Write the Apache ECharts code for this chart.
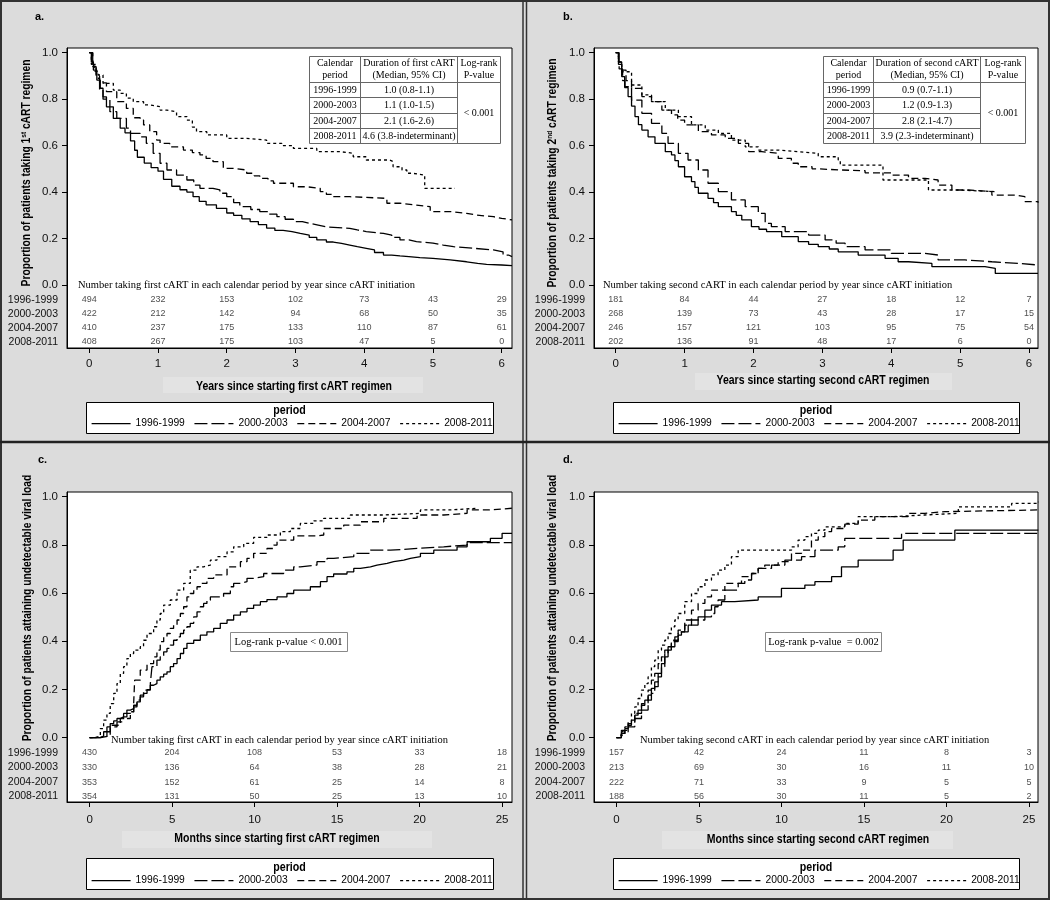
<!DOCTYPE html>
<html><head><meta charset="utf-8">
<script src="https://cdn.jsdelivr.net/npm/echarts@6/dist/echarts.min.js"></script>
<style>html,body{margin:0;padding:0;background:#dcdcdc}#c{width:1050px;height:900px}</style>
</head><body><div id="c"></div>
<script>
// ---------------- DATA ----------------
const periods = ['1996-1999', '2000-2003', '2004-2007', '2008-2011'];

// Panel a: years since starting first cART, proportion still on regimen
const a1996 = [[0,1],[0.03,0.96],[0.06,0.925],[0.11,0.882],[0.16,0.847],[0.2,0.81],[0.25,0.767],[0.35,0.717],[0.45,0.675],[0.52,0.655],[0.6,0.62],[0.66,0.58],[0.7,0.55],[0.8,0.525],[0.9,0.505],[1.0,0.49],[1.08,0.455],[1.2,0.425],[1.32,0.41],[1.42,0.4],[1.51,0.38],[1.6,0.36],[1.7,0.345],[1.85,0.33],[2.0,0.31],[2.1,0.3],[2.22,0.285],[2.34,0.273],[2.46,0.26],[2.58,0.245],[2.7,0.235],[2.82,0.23],[2.95,0.222],[3.07,0.215],[3.2,0.205],[3.31,0.194],[3.45,0.185],[3.55,0.179],[3.67,0.172],[3.79,0.165],[3.9,0.158],[4.03,0.151],[4.15,0.14],[4.28,0.129],[4.4,0.125],[4.52,0.122],[4.65,0.118],[4.81,0.115],[5.0,0.108],[5.25,0.1],[5.49,0.093],[5.65,0.089],[5.78,0.086],[6.0,0.083],[6.15,0.08]];
const a2000 = [[0,1],[0.05,0.94],[0.1,0.89],[0.15,0.84],[0.2,0.8],[0.3,0.746],[0.4,0.717],[0.54,0.675],[0.6,0.653],[0.74,0.638],[0.83,0.61],[0.93,0.567],[1.03,0.524],[1.13,0.495],[1.27,0.473],[1.42,0.452],[1.52,0.43],[1.61,0.416],[1.8,0.409],[1.9,0.395],[2.0,0.38],[2.1,0.355],[2.19,0.337],[2.35,0.325],[2.48,0.316],[2.6,0.305],[2.73,0.294],[2.85,0.283],[2.97,0.273],[3.1,0.265],[3.21,0.258],[3.33,0.25],[3.45,0.244],[3.79,0.237],[3.9,0.23],[4.03,0.222],[4.28,0.215],[4.4,0.205],[4.52,0.194],[4.65,0.187],[4.76,0.18],[5.0,0.172],[5.15,0.165],[5.3,0.158],[5.59,0.151],[5.88,0.143],[6.02,0.129],[6.1,0.122],[6.15,0.122]];
const a2004 = [[0,1],[0.05,0.95],[0.1,0.9],[0.15,0.87],[0.25,0.832],[0.4,0.789],[0.54,0.76],[0.64,0.72],[0.74,0.71],[0.79,0.689],[0.88,0.66],[0.98,0.624],[1.03,0.61],[1.17,0.595],[1.37,0.581],[1.5,0.57],[1.61,0.56],[1.7,0.545],[1.8,0.531],[1.95,0.502],[2.1,0.495],[2.29,0.481],[2.4,0.47],[2.48,0.459],[2.6,0.448],[2.68,0.438],[2.97,0.423],[3.16,0.416],[3.36,0.402],[3.45,0.39],[3.55,0.38],[3.79,0.373],[4.33,0.352],[4.52,0.344],[4.76,0.337],[4.96,0.316],[5.25,0.308],[5.49,0.301],[5.64,0.294],[5.88,0.287],[6.0,0.28],[6.15,0.28]];
const a2008 = [[0,1],[0.03,0.95],[0.08,0.92],[0.13,0.904],[0.2,0.868],[0.35,0.839],[0.45,0.825],[0.54,0.804],[0.64,0.789],[0.79,0.775],[0.88,0.768],[1.03,0.753],[1.13,0.746],[1.27,0.725],[1.42,0.71],[1.5,0.68],[1.56,0.66],[1.71,0.646],[2.0,0.631],[2.29,0.624],[2.58,0.61],[2.8,0.6],[2.97,0.588],[3.31,0.574],[3.65,0.567],[3.84,0.552],[4.03,0.538],[4.37,0.531],[4.42,0.509],[4.55,0.495],[4.62,0.481],[4.7,0.473],[4.88,0.416],[5.32,0.416]];

// Panel b: years since starting second cART
const b1996 = [[0,1],[0.04,0.95],[0.087,0.897],[0.13,0.85],[0.18,0.811],[0.23,0.77],[0.28,0.725],[0.33,0.69],[0.38,0.667],[0.47,0.638],[0.57,0.61],[0.72,0.574],[0.81,0.56],[0.86,0.535],[0.91,0.509],[1.0,0.466],[1.1,0.445],[1.15,0.42],[1.2,0.395],[1.34,0.373],[1.42,0.355],[1.49,0.337],[1.68,0.316],[1.75,0.3],[1.83,0.28],[1.97,0.251],[2.08,0.24],[2.19,0.23],[2.41,0.208],[2.65,0.187],[2.8,0.175],[2.94,0.165],[3.1,0.155],[3.23,0.143],[3.52,0.129],[3.91,0.115],[4.1,0.1],[4.25,0.093],[4.59,0.079],[5.36,0.072],[5.51,0.05],[6.13,0.05]];
const b2000 = [[0,1],[0.05,0.93],[0.1,0.88],[0.135,0.854],[0.23,0.796],[0.38,0.739],[0.52,0.696],[0.67,0.653],[0.76,0.61],[0.91,0.567],[1.05,0.538],[1.2,0.495],[1.34,0.438],[1.49,0.402],[1.68,0.366],[1.88,0.337],[2.07,0.308],[2.17,0.265],[2.26,0.251],[2.46,0.23],[2.8,0.215],[3.04,0.194],[3.2,0.18],[3.33,0.165],[3.62,0.151],[4.0,0.136],[4.49,0.129],[4.68,0.108],[5.07,0.1],[5.46,0.093],[5.84,0.086],[6.13,0.086]];
const b2004 = [[0,1],[0.04,0.96],[0.087,0.925],[0.15,0.88],[0.23,0.846],[0.38,0.811],[0.52,0.789],[0.67,0.753],[0.81,0.732],[0.9,0.71],[1.0,0.689],[1.2,0.66],[1.39,0.646],[1.59,0.631],[1.78,0.61],[1.93,0.574],[2.12,0.567],[2.36,0.545],[2.55,0.524],[2.65,0.509],[2.85,0.5],[2.94,0.495],[3.28,0.492],[3.62,0.483],[4.0,0.473],[4.25,0.459],[4.49,0.452],[4.68,0.43],[4.88,0.409],[5.12,0.402],[5.46,0.387],[5.8,0.38],[5.94,0.359],[6.13,0.354]];
const b2008 = [[0,1],[0.04,0.96],[0.09,0.918],[0.23,0.861],[0.38,0.818],[0.52,0.789],[0.72,0.753],[0.91,0.725],[1.1,0.689],[1.3,0.667],[1.49,0.653],[1.68,0.624],[1.88,0.595],[2.07,0.581],[2.36,0.574],[2.65,0.567],[2.94,0.552],[3.23,0.538],[3.26,0.516],[3.88,0.452],[4.54,0.409],[4.97,0.402],[5.51,0.402]];

// Panel c: months since starting first cART, proportion undetectable
const c1996 = [[0,0],[0.65,0.006],[0.85,0.024],[1.05,0.044],[1.25,0.058],[1.46,0.069],[1.66,0.079],[1.86,0.086],[2.06,0.1],[2.26,0.114],[2.47,0.12],[2.67,0.134],[2.87,0.148],[3.07,0.169],[3.27,0.183],[3.48,0.199],[3.68,0.217],[3.88,0.224],[4.08,0.238],[4.28,0.252],[4.49,0.263],[4.69,0.273],[4.89,0.294],[5.09,0.307],[5.3,0.328],[5.5,0.349],[5.7,0.37],[5.9,0.391],[6.31,0.404],[6.71,0.425],[7.11,0.439],[7.52,0.453],[7.92,0.474],[8.33,0.488],[8.73,0.508],[9.14,0.522],[9.54,0.536],[9.94,0.55],[10.35,0.564],[10.75,0.573],[11.36,0.584],[11.96,0.598],[12.37,0.612],[13.38,0.626],[13.99,0.647],[14.39,0.668],[14.79,0.679],[15.6,0.688],[16.01,0.702],[16.41,0.709],[17.02,0.716],[17.42,0.723],[18.03,0.73],[18.43,0.737],[19.04,0.744],[19.44,0.751],[20.05,0.765],[20.86,0.778],[22.27,0.792],[22.88,0.813],[24.29,0.827],[25.0,0.848],[25.6,0.848]];
const c2000 = [[0,0],[0.65,0.006],[1.05,0.024],[1.25,0.044],[1.66,0.065],[2.06,0.086],[2.26,0.1],[2.67,0.127],[2.87,0.155],[3.07,0.176],[3.27,0.197],[3.68,0.224],[3.78,0.294],[4.08,0.321],[4.28,0.335],[4.49,0.356],[4.69,0.37],[4.89,0.384],[5.09,0.404],[5.3,0.418],[5.5,0.432],[5.7,0.446],[5.9,0.46],[6.1,0.474],[6.31,0.501],[6.51,0.522],[6.71,0.543],[6.91,0.557],[7.11,0.571],[7.32,0.584],[8.12,0.598],[8.53,0.626],[8.73,0.64],[9.14,0.647],[9.54,0.661],[9.94,0.668],[10.55,0.681],[11.76,0.695],[12.37,0.709],[12.77,0.716],[13.78,0.73],[14.39,0.744],[14.79,0.751],[16.01,0.765],[17.02,0.778],[18.23,0.785],[19.85,0.792],[21.46,0.799],[22.88,0.809],[25.6,0.809]];
const c2004 = [[0,0],[0.65,0.006],[1.25,0.051],[1.86,0.079],[2.47,0.107],[2.67,0.141],[2.73,0.238],[3.07,0.28],[3.48,0.307],[3.88,0.335],[4.08,0.363],[4.28,0.398],[4.49,0.418],[4.69,0.432],[4.89,0.453],[5.09,0.467],[5.3,0.488],[5.5,0.515],[5.7,0.543],[5.9,0.584],[6.1,0.598],[6.31,0.612],[6.51,0.626],[6.71,0.64],[7.11,0.661],[7.52,0.675],[8.33,0.709],[9.14,0.73],[9.54,0.744],[9.94,0.765],[10.75,0.785],[11.16,0.799],[11.36,0.82],[12.37,0.837],[13.78,0.841],[14.19,0.868],[15.4,0.882],[16.41,0.896],[17.83,0.91],[19.85,0.924],[21.46,0.931],[22.88,0.945],[24.2,0.952],[25.6,0.952]];
const c2008 = [[0,0],[0.34,0.006],[0.65,0.037],[0.85,0.072],[1.05,0.1],[1.25,0.141],[1.46,0.183],[1.66,0.224],[1.86,0.266],[2.06,0.294],[2.26,0.328],[2.47,0.349],[2.67,0.363],[3.07,0.377],[3.27,0.404],[3.48,0.432],[3.88,0.46],[4.08,0.488],[4.28,0.515],[4.49,0.55],[4.89,0.571],[5.3,0.612],[5.7,0.64],[6.1,0.695],[6.51,0.709],[6.91,0.716],[7.32,0.737],[7.72,0.751],[8.33,0.771],[8.73,0.792],[9.34,0.806],[9.94,0.831],[10.75,0.841],[11.56,0.855],[12.17,0.868],[12.77,0.889],[13.58,0.9],[14.19,0.91],[15.8,0.924],[17.83,0.931],[20.05,0.945],[21.87,0.952],[23.48,0.952]];

// Panel d: months since starting second cART
const d1996 = [[0,0],[0.3,0.017],[0.51,0.037],[0.71,0.051],[0.91,0.072],[1.11,0.093],[1.31,0.114],[1.52,0.134],[1.72,0.155],[1.92,0.176],[2.12,0.204],[2.32,0.231],[2.53,0.266],[2.73,0.307],[2.93,0.335],[3.13,0.363],[3.33,0.377],[3.54,0.398],[3.74,0.425],[3.94,0.439],[4.35,0.467],[4.55,0.488],[4.95,0.501],[5.36,0.529],[5.76,0.55],[6.37,0.564],[7.17,0.571],[8.59,0.584],[10.0,0.619],[11.42,0.633],[12.03,0.647],[13.04,0.668],[13.64,0.709],[14.65,0.737],[16.77,0.778],[17.38,0.82],[20.51,0.861],[25.57,0.861]];
const d2000 = [[0,0],[0.3,0.024],[0.71,0.044],[1.11,0.079],[1.52,0.114],[1.92,0.155],[2.12,0.183],[2.32,0.211],[2.53,0.252],[2.73,0.294],[2.93,0.349],[3.13,0.377],[3.33,0.398],[3.54,0.418],[3.74,0.439],[4.14,0.467],[4.95,0.488],[5.36,0.501],[5.76,0.515],[5.96,0.543],[6.16,0.571],[6.57,0.612],[7.38,0.64],[7.78,0.654],[8.19,0.681],[8.59,0.702],[9.4,0.716],[10.21,0.737],[11.22,0.751],[12.03,0.778],[13.44,0.792],[13.84,0.827],[17.28,0.848],[25.57,0.848]];
const d2004 = [[0,0],[0.3,0.03],[0.71,0.058],[1.11,0.1],[1.52,0.141],[1.92,0.197],[2.12,0.238],[2.32,0.266],[2.53,0.307],[2.73,0.335],[2.93,0.363],[3.33,0.404],[3.74,0.446],[4.14,0.488],[4.55,0.529],[4.95,0.557],[5.36,0.584],[5.76,0.612],[6.57,0.64],[7.58,0.668],[8.19,0.681],[8.59,0.702],[8.99,0.716],[9.8,0.73],[10.61,0.765],[11.22,0.778],[11.82,0.82],[12.23,0.834],[12.63,0.855],[13.04,0.868],[13.84,0.886],[14.65,0.903],[15.66,0.917],[17.68,0.931],[18.69,0.938],[19.91,0.945],[25.57,0.945]];
const d2008 = [[0,0],[0.2,0.01],[0.51,0.044],[0.71,0.065],[0.91,0.1],[1.11,0.127],[1.31,0.162],[1.52,0.197],[1.72,0.224],[1.92,0.252],[2.12,0.294],[2.32,0.321],[2.53,0.363],[2.73,0.384],[2.93,0.404],[3.13,0.432],[3.33,0.46],[3.54,0.488],[3.74,0.515],[4.14,0.564],[4.55,0.598],[4.95,0.626],[5.36,0.654],[5.76,0.675],[6.16,0.695],[6.57,0.716],[6.97,0.751],[7.38,0.778],[10.61,0.792],[11.01,0.82],[11.42,0.834],[11.82,0.848],[12.23,0.861],[12.63,0.875],[13.84,0.889],[14.65,0.917],[16.67,0.924],[18.69,0.931],[20.72,0.958],[23.95,0.972],[25.57,0.979]];

// Numbers at risk
const riskTimesYears = [0, 1, 2, 3, 4, 5, 6];
const riskTimesMonths = [0, 5, 10, 15, 20, 25];
const riskA = [[494,232,153,102,73,43,29],[422,212,142,94,68,50,35],[410,237,175,133,110,87,61],[408,267,175,103,47,5,0]];
const riskB = [[181,84,44,27,18,12,7],[268,139,73,43,28,17,15],[246,157,121,103,95,75,54],[202,136,91,48,17,6,0]];
const riskC = [[430,204,108,53,33,18],[330,136,64,38,28,21],[353,152,61,25,14,8],[354,131,50,25,13,10]];
const riskD = [[157,42,24,11,8,3],[213,69,30,16,11,10],[222,71,33,9,5,5],[188,56,30,11,5,2]];

// Median duration tables
const medianA = ['1.0 (0.8-1.1)', '1.1 (1.0-1.5)', '2.1 (1.6-2.6)', '4.6 (3.8-indeterminant)'];
const medianB = ['0.9 (0.7-1.1)', '1.2 (0.9-1.3)', '2.8 (2.1-4.7)', '3.9 (2.3-indeterminant)'];
const yTicks = [0, 0.2, 0.4, 0.6, 0.8, 1.0];

// ---------------- LAYOUT / STYLE ----------------
const SANS = "'Liberation Sans',Arial,sans-serif";
const SERIF = "'Liberation Serif','Times New Roman',serif";
const dashes = ['solid', [13, 4], [7, 4], [3, 3]];
const rowY = [-0.064, -0.124, -0.185, -0.245];

const panels = [
  { grid: {left: 67, top: 48, width: 445, height: 300}, x: [-0.324, 6.15], y: [-0.2712, 1.0202],
    xt: riskTimesYears, curves: [a1996, a2000, a2004, a2008], risk: riskA, lblMargin: 10,
    xname: 'Years since starting first cART regimen', xnamePos: [294, 387], xnameBg: [163, 377, 260, 16],
    legendLeft: 91, legendTop: 418, box: [86, 402, 407, 31], periodY: 410 },
  { grid: {left: 594, top: 48, width: 444, height: 300}, x: [-0.315, 6.13], y: [-0.2712, 1.0202],
    xt: riskTimesYears, curves: [b1996, b2000, b2004, b2008], risk: riskB, lblMargin: 10,
    xname: 'Years since starting second cART regimen', xnamePos: [823, 381], xnameBg: [695, 373, 257, 17],
    legendLeft: 618, legendTop: 418, box: [613, 402, 406, 31], periodY: 410 },
  { grid: {left: 67, top: 492, width: 445, height: 310}, x: [-1.37, 25.6], y: [-0.2677, 1.0195],
    xt: riskTimesMonths, curves: [c1996, c2000, c2004, c2008], risk: riskC, lblMargin: 12,
    xname: 'Months since starting first cART regimen', xnamePos: [277, 839], xnameBg: [122, 831, 310, 17],
    legendLeft: 91, legendTop: 875, box: [86, 858, 407, 31], periodY: 867 },
  { grid: {left: 594, top: 492, width: 444, height: 310}, x: [-1.36, 25.55], y: [-0.2677, 1.0195],
    xt: riskTimesMonths, curves: [d1996, d2000, d2004, d2008], risk: riskD, lblMargin: 12,
    xname: 'Months since starting second cART regimen', xnamePos: [818, 840], xnameBg: [662, 831, 291, 18],
    legendLeft: 618, legendTop: 875, box: [613, 858, 406, 31], periodY: 867 }
];

const grids = [], xAxes = [], yAxes = [], series = [], legends = [];
panels.forEach((p, i) => {
  grids.push(Object.assign({show: true, backgroundColor: '#fff', borderColor: '#000', borderWidth: 1, containLabel: false}, p.grid));
  xAxes.push({type: 'value', gridIndex: i, min: p.x[0], max: p.x[1],
    splitLine: {show: false}, axisLine: {show: true, onZero: false, lineStyle: {color: '#000'}},
    axisTick: {show: true, customValues: p.xt, length: 5, lineStyle: {color: '#000'}},
    axisLabel: {customValues: p.xt, margin: p.lblMargin, fontFamily: SANS, fontSize: 11.5, color: '#111'}});
  yAxes.push({type: 'value', gridIndex: i, min: p.y[0], max: p.y[1],
    splitLine: {show: false}, axisLine: {show: true, onZero: false, lineStyle: {color: '#000'}},
    axisTick: {show: true, customValues: yTicks, length: 5, lineStyle: {color: '#000'}},
    axisLabel: {customValues: yTicks.concat(rowY), margin: 9, fontFamily: SANS, fontSize: 11.5, color: '#111',
      rich: {r: {fontFamily: SANS, fontSize: 10.5, color: '#111'}},
      formatter: v => {
        if (v > -0.01) return v.toFixed(1);
        const k = rowY.findIndex(r => Math.abs(r - v) < 0.01);
        return k >= 0 ? '{r|' + periods[k] + '}' : '';
      }}});
  p.curves.forEach((data, k) => {
    series.push({type: 'line', name: periods[k], xAxisIndex: i, yAxisIndex: i, data: data,
      step: 'end', symbol: 'none', silent: true, clip: true,
      lineStyle: {color: '#000', width: 1.3, type: dashes[k]}, itemStyle: {color: '#000'}});
  });
  p.risk.forEach((row, k) => {
    series.push({type: 'scatter', name: 'risk' + i + '_' + k, xAxisIndex: i, yAxisIndex: i,
      data: row.map((n, j) => [p.xt[j], rowY[k], n]), symbolSize: 1, silent: true,
      itemStyle: {color: 'transparent'},
      label: {show: true, position: 'inside', formatter: q => String(q.value[2]),
        fontFamily: SANS, fontSize: 9, color: '#222'}});
  });
  legends.push({data: periods, left: p.legendLeft, top: p.legendTop, orient: 'horizontal',
    itemWidth: 39, itemHeight: 14, itemGap: 9, padding: 0, z: 10, selectedMode: false,
    itemStyle: {color: 'rgba(0,0,0,0)', borderColor: 'rgba(0,0,0,0)', borderWidth: 0},
    lineStyle: {width: 1.2},
    textStyle: {fontFamily: SANS, fontSize: 10.3, color: '#000'}});
});

// ---------------- GRAPHIC (frames, tables, titles) ----------------
const g = [];
function txt(x, y, text, st, extra) {
  g.push(Object.assign({type: 'text', x: x, y: y, z: 60, silent: true,
    style: Object.assign({text: text, fill: '#000', fontSize: 10, fontFamily: SERIF, align: 'left', verticalAlign: 'middle'}, st)}, extra || {}));
}
function ln(x1, y1, x2, y2, stroke, w, z) {
  g.push({type: 'line', z: z || 60, silent: true, shape: {x1: x1, y1: y1, x2: x2, y2: y2}, style: {stroke: stroke, lineWidth: w}});
}
function rc(x, y, w, h, fill, stroke, lw, z) {
  g.push({type: 'rect', z: z || 55, silent: true, shape: {x: x, y: y, width: w, height: h}, style: {fill: fill, stroke: stroke, lineWidth: lw}});
}

// frame lines
rc(1, 1, 1048, 898, 'none', '#333', 2, 70);
ln(523, 0, 523, 900, '#333', 1.5, 70);
ln(526.5, 0, 526.5, 900, '#333', 1.5, 70);
ln(0, 442, 1050, 442, '#222', 2.5, 70);

// panel letters
[['a.', 35, 17], ['b.', 563, 17], ['c.', 38, 460], ['d.', 563, 460]].forEach(t =>
  txt(t[1], t[2], t[0], {fontFamily: SANS, fontWeight: 'bold', fontSize: 11}));

// y-axis titles (condensed bold)
const yTitleStyle = {fontFamily: SANS, fontWeight: 'bold', fontSize: 12.5, align: 'center', verticalAlign: 'middle',
  rich: {s: {fontFamily: SANS, fontWeight: 'bold', fontSize: 8, verticalAlign: 'top', lineHeight: 14}}};
const rot = {rotation: Math.PI / 2, scaleX: 0.82};
txt(27, 173, 'Proportion of patients taking 1{s|st} cART regimen', yTitleStyle, rot);
txt(553, 173, 'Proportion of patients taking 2{s|nd} cART regimen', yTitleStyle, rot);
txt(28, 608, 'Proportion of patients attaining undetectable viral load', yTitleStyle, rot);
txt(553, 608, 'Proportion of patients attaining undetectable viral load', yTitleStyle, rot);

// x-axis titles
panels.forEach(p => {
  const b = p.xnameBg;
  rc(b[0], b[1], b[2], b[3], '#e3e3e3', 'none', 0, 2);
  txt(p.xnamePos[0], p.xnamePos[1], p.xname, {fontFamily: SANS, fontWeight: 'bold', fontSize: 12.5, align: 'center'}, {scaleX: 0.84});
});

// risk table headers
txt(78, 285, 'Number taking first cART in each calendar period by year since cART initiation', {fontSize: 10.5});
txt(603, 285, 'Number taking second cART in each calendar period by year since cART initiation', {fontSize: 10.5});
txt(111, 740, 'Number taking first cART in each calendar period by year since cART initiation', {fontSize: 10.5});
txt(640, 740, 'Number taking second cART in each calendar period by year since cART initiation', {fontSize: 10.5});

// median tables
function medTable(cols, which, meds) {
  const rows = [56.5, 82.5, 97.5, 113.5, 128.5, 143.5];
  rc(cols[0], rows[0], cols[3] - cols[0], rows[5] - rows[0], '#fff', '#666', 1, 55);
  ln(cols[1], rows[0], cols[1], rows[5], '#666', 1);
  ln(cols[2], rows[0], cols[2], rows[5], '#666', 1);
  ln(cols[0], rows[1], cols[3], rows[1], '#666', 1);
  for (let r = 2; r <= 4; r++) ln(cols[0], rows[r], cols[2], rows[r], '#666', 1);
  const cx = [(cols[0] + cols[1]) / 2, (cols[1] + cols[2]) / 2, (cols[2] + cols[3]) / 2];
  const hs = {align: 'center', lineHeight: 11.5, fontSize: 10};
  txt(cx[0], (rows[0] + rows[1]) / 2, 'Calendar\nperiod', hs);
  txt(cx[1], (rows[0] + rows[1]) / 2, 'Duration of ' + which + ' cART\n(Median, 95% CI)', hs);
  txt(cx[2], (rows[0] + rows[1]) / 2, 'Log-rank\nP-value', hs);
  for (let r = 0; r < 4; r++) {
    const yy = (rows[r + 1] + rows[r + 2]) / 2;
    txt(cx[0], yy, periods[r], {align: 'center'});
    txt(cx[1], yy, meds[r], {align: 'center'});
  }
  txt(cx[2], (rows[1] + rows[5]) / 2, '< 0.001', {align: 'center'});
}
medTable([309.5, 360.5, 457.5, 500.5], 'first', medianA);
medTable([823.5, 873.5, 980.5, 1025.5], 'second', medianB);

// log-rank boxes
rc(230.5, 632.5, 117, 19, '#fff', '#888', 1, 55);
txt(288.5, 642, 'Log-rank p-value < 0.001', {align: 'center', fontSize: 10.5});
rc(765.5, 632.5, 116, 19, '#fff', '#888', 1, 55);
txt(823.5, 642, 'Log-rank p-value  = 0.002', {align: 'center', fontSize: 10.5});

// legend frames
panels.forEach(p => {
  const b = p.box;
  rc(b[0] + 0.5, b[1] + 0.5, b[2], b[3], '#fff', '#000', 1, 1);
  txt(b[0] + b[2] / 2, p.periodY, 'period', {align: 'center', fontFamily: SANS, fontWeight: 'bold', fontSize: 13}, {scaleX: 0.82});
});

const chart = echarts.init(document.getElementById('c'), null, {renderer: 'canvas'});
chart.setOption({
  animation: false,
  backgroundColor: '#dcdcdc',
  grid: grids, xAxis: xAxes, yAxis: yAxes, series: series, legend: legends,
  graphic: {elements: g}
});
</script></body></html>
